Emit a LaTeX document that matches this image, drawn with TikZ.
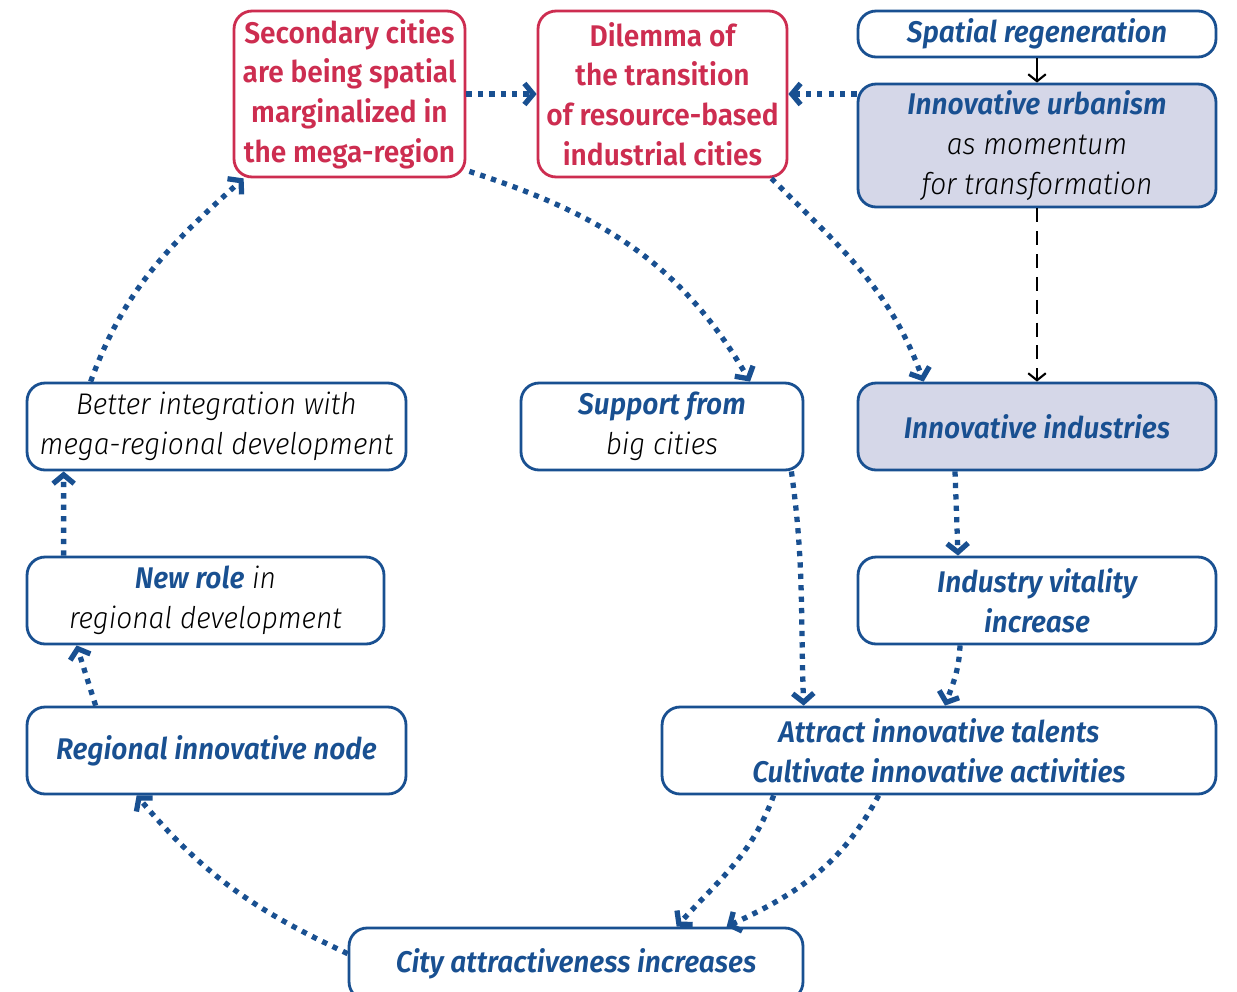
\documentclass[tikz,border=0pt]{standalone}
\usepackage{fontspec}
\setmainfont{Fira Sans Light}[FakeStretch=0.94,
    ItalicFont={Fira Sans Light Italic},
    BoldFont={Fira Sans SemiBold},
    BoldItalicFont={Fira Sans SemiBold Italic}]
\usetikzlibrary{arrows.meta, calc}

\definecolor{mainblue}{RGB}{25,80,145}
\definecolor{mainred}{RGB}{205,45,80}
\definecolor{lavender}{RGB}{213,215,232}
\newcommand{\hl}[1]{\textcolor{mainblue}{\bfseries #1}}

\begin{document}
\begin{tikzpicture}[
    x=0.02cm, y=-0.02cm,
    box/.style={rectangle, rounded corners=0.36cm, draw=mainblue, line width=1.6pt,
                align=center, inner sep=0pt,
                font=\fontsize{17}{22.6}\selectfont\itshape},
    redbox/.style={box, draw=mainred, text=mainred,
                font=\fontsize{17}{22.6}\selectfont\bfseries},
    keybox/.style={box, fill=lavender},
    arrow/.style={draw=mainblue, line width=3pt, dash pattern=on 3pt off 3.5pt,
                -{Straight Barb[length=5pt, width=12pt]}},
    plainarrow/.style={-{Straight Barb[length=4pt, width=10pt]}, line width=1.2pt},
]

% frame
\fill[white] (0,0) rectangle (1237,991);
\useasboundingbox (0,0) rectangle (1237,991);

% top row
\node[redbox, minimum width=4.62cm, minimum height=3.32cm] (sec) at (349.5,94)
    {Secondary cities\\are being spatial\\marginalized in\\the mega-region};
\node[redbox, minimum width=4.98cm, minimum height=3.32cm] (dil) at (662.5,94)
    {Dilemma of\\the transition\\of resource-based\\industrial cities};
\node[box, minimum width=7.16cm, minimum height=0.92cm] (spat) at (1037,34)
    {\hl{Spatial regeneration}};
\node[keybox, minimum width=7.16cm, minimum height=2.46cm] (urb) at (1037,145.5)
    {\hl{Innovative urbanism}\\as momentum\\for transformation};

% middle rows
\node[box, minimum width=7.58cm, minimum height=1.74cm] (bet) at (216.5,426.5)
    {Better integration with\\mega-regional development};
\node[box, minimum width=5.64cm, minimum height=1.74cm] (sup) at (662,426.5)
    {\hl{Support from}\\big cities};
\node[keybox, minimum width=7.16cm, minimum height=1.74cm] (indus) at (1037,426.5)
    {\hl{Innovative industries}};
\node[box, minimum width=7.14cm, minimum height=1.74cm] (new) at (205.5,600.5)
    {\hl{New role} in\\regional development};
\node[box, minimum width=7.16cm, minimum height=1.74cm] (vit) at (1037,600.5)
    {\hl{Industry vitality}\\\hl{increase}};
\node[box, minimum width=7.58cm, minimum height=1.74cm] (reg) at (216.5,750.5)
    {\hl{Regional innovative node}};
\node[box, minimum width=11.08cm, minimum height=1.74cm] (att) at (939,750.5)
    {\hl{Attract innovative talents}\\\hl{Cultivate innovative activities}};

% bottom
\node[box, minimum width=9.08cm, minimum height=1.44cm] (city) at (576,964)
    {\hl{City attractiveness increases}};

% arrows
\draw[arrow] (sec.east) -- (dil.west);
\draw[arrow] (urb.west |- dil.east) -- (dil.east);
\draw[plainarrow] (spat.south) -- (urb.north);
\draw[plainarrow, dash pattern=on 8pt off 5pt] (urb.south) -- (indus.north);
\draw[arrow] ($(sec.south east)+(3,-7)$) to[out=-18, in=120] ($(sup.north)+(88,0)$);
\draw[arrow] ($(dil.south east)+(-17,0)$) to[out=-45, in=110] ($(indus.north west)+(67,0)$);
\draw[arrow] ($(sup.south east)+(-13,0)$) to[out=-82, in=92] ($(att.north west)+(143,0)$);
\draw[arrow] ($(indus.south)+(-82,0)$) to[out=-88, in=92] ($(vit.north)+(-79,0)$);
\draw[arrow] ($(vit.south)+(-77,0)$) to[out=-92, in=70] ($(att.north)+(6,0)$);
\draw[arrow] ($(att.south west)+(113,0)$) to[out=-110, in=48] ($(city.north west)+(329,0)$);
\draw[arrow] ($(att.south west)+(218,0)$) to[out=-118, in=25] ($(city.north west)+(379,0)$);
\draw[arrow] ($(city.north west)+(0,27)$) to[out=155, in=-50] ($(reg.south west)+(111,0)$);
\draw[arrow] ($(reg.north west)+(70,0)$) -- ($(new.south west)+(51,0)$);
\draw[arrow] ($(new.north west)+(38,0)$) -- ($(bet.south west)+(38,0)$);
\draw[arrow] ($(bet.north west)+(65,0)$) to[out=70, in=-138] ($(sec.south west)+(11,0)$);

\end{tikzpicture}
\end{document}
